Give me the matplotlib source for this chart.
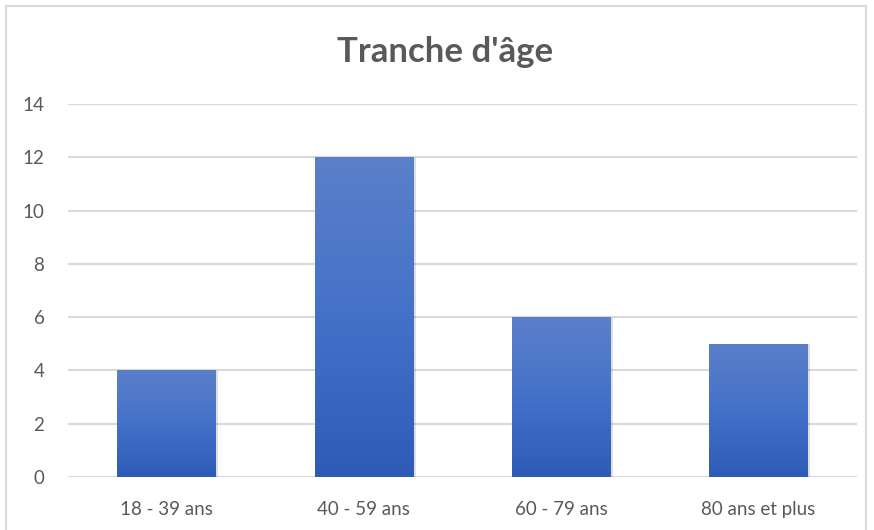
import numpy as np
import matplotlib
matplotlib.use("Agg")
import matplotlib.pyplot as plt
from matplotlib.patches import Rectangle
from matplotlib.colors import LinearSegmentedColormap

categories = ["18 - 39 ans", "40 - 59 ans", "60 - 79 ans", "80 ans et plus"]
values = [4, 12, 6, 5]
yticks = [0, 2, 4, 6, 8, 10, 12, 14]
title = "Tranche d'âge"

plt.rcParams['font.family'] = ['Lato', 'DejaVu Sans']

W, H = 874, 530
fig = plt.figure(figsize=(W / 100, H / 100), dpi=100)
fig.patch.set_facecolor("white")

# outer chart border
fig.add_artist(Rectangle((6 / W, -0.02), (866 - 6) / W, 1.02 - 6 / H,
                         transform=fig.transFigure, fill=False,
                         edgecolor="#d9d9d9", linewidth=1.5))

ax = fig.add_axes([68 / W, 1 - 477 / H, (857 - 68) / W, (477 - 104) / H])
ax.set_xlim(-0.5, len(categories) - 0.5)
ax.set_ylim(0, 14)

for spine in ax.spines.values():
    spine.set_visible(False)
ax.set_yticks(yticks)
ax.set_yticklabels([str(v) for v in yticks])
ax.set_xticks(range(len(categories)))
ax.set_xticklabels(categories)
ax.tick_params(axis='both', length=0, colors="#595959", labelsize=13.5)
ax.tick_params(axis='y', pad=17)
ax.tick_params(axis='x', pad=17)
ax.yaxis.grid(True, color="#d9d9d9", linewidth=1.5)
ax.set_axisbelow(True)

cmap = LinearSegmentedColormap.from_list("g", ["#2d5bb7", "#4471c8", "#5b80ca"])
grad = np.linspace(0, 1, 256).reshape(-1, 1)
bw = 0.5
for i, v in enumerate(values):
    x0 = i - bw / 2
    sh = Rectangle((x0 + 0.012, 0), bw, v - 0.02, facecolor="#000000", alpha=0.12,
                   edgecolor="none", zorder=2)
    ax.add_patch(sh)
    rect = Rectangle((x0, 0), bw, v, facecolor="none", edgecolor="none", zorder=3)
    ax.add_patch(rect)
    im = ax.imshow(grad, extent=(x0, x0 + bw, 0, v), origin="lower", cmap=cmap,
                   aspect="auto", zorder=3, interpolation="bilinear")
    im.set_clip_path(rect)

ax.set_xlim(-0.5, len(categories) - 0.5)
ax.set_ylim(0, 14)

fig.text(445 / W, 1 - 52 / H, title, ha="center", va="center", fontsize=25,
         fontweight="bold", color="#595959")

fig.savefig("out.png", dpi=100)
